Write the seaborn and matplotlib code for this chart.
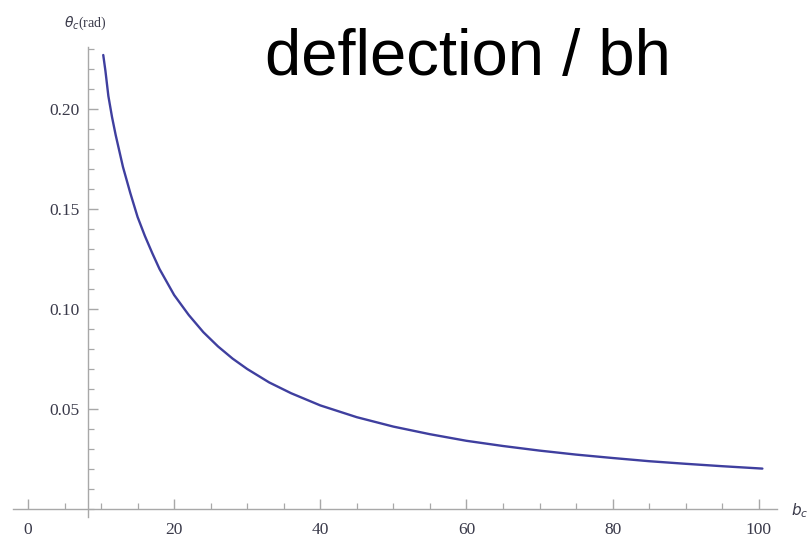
import matplotlib
matplotlib.use("Agg")
import matplotlib.pyplot as plt
from matplotlib.ticker import MultipleLocator
import seaborn as sns
import pandas as pd

# Impact parameter b_c and deflection angle theta_c (rad)
impact_b = [10.3, 10.6, 11, 11.5, 12, 12.5, 13, 14, 15, 16, 17, 18, 19, 20,
            22, 24, 26, 28, 30, 33, 36, 40, 45, 50, 55, 60, 65, 70, 75, 80,
            85, 90, 95, 100.5]
deflection = [0.227, 0.219, 0.2065, 0.196, 0.187, 0.179, 0.171, 0.158, 0.146,
              0.1365, 0.128, 0.120, 0.1135, 0.107, 0.097, 0.0884, 0.0813,
              0.0752, 0.070, 0.0633, 0.0579, 0.0518, 0.0459, 0.0412, 0.0374,
              0.0341, 0.0315, 0.0292, 0.0272, 0.0255, 0.0239, 0.0226, 0.0214,
              0.0202]

x_ticks = [0, 20, 40, 60, 80, 100]
y_ticks = [0.05, 0.10, 0.15, 0.20]
y_tick_labels = ["0.05", "0.10", "0.15", "0.20"]

df = pd.DataFrame({"b": impact_b, "theta": deflection})

sns.set_theme(style="white")
plt.rcParams["font.family"] = ["Liberation Serif", "DejaVu Serif"]

fig = plt.figure(figsize=(8.08, 5.39), dpi=100)
ax = fig.add_axes([13 / 808, 22 / 539, 764 / 808, 470 / 539])

sns.lineplot(data=df, x="b", y="theta", color="#3f3f9f", linewidth=1.7,
             ax=ax, sort=False)

ax.set_xlim(-2.05, 102.5)
ax.set_ylim(-0.004, 0.231)

axis_color = "#a8a8a8"
for side in ["top", "right"]:
    ax.spines[side].set_visible(False)
ax.spines["left"].set_position(("data", 8.2))
ax.spines["bottom"].set_position(("data", 0.0))
for side in ["left", "bottom"]:
    ax.spines[side].set_color(axis_color)
    ax.spines[side].set_linewidth(1.0)

ax.set_xticks(x_ticks)
ax.set_xticklabels([str(v) for v in x_ticks])
ax.set_yticks(y_ticks)
ax.set_yticklabels(y_tick_labels)
ax.xaxis.set_minor_locator(MultipleLocator(5))
ax.yaxis.set_minor_locator(MultipleLocator(0.01))

label_color = "#3a3a4a"
ax.tick_params(axis="both", which="both", bottom=True, left=True,
               top=False, right=False)
ax.tick_params(axis="both", which="major", direction="in", length=7,
               width=1.0, color=axis_color, labelsize=12.5,
               labelcolor=label_color)
ax.tick_params(axis="both", which="minor", direction="in", length=4,
               width=0.9, color=axis_color)
ax.tick_params(axis="x", which="major", pad=9)
ax.tick_params(axis="y", which="major", pad=6)
ax.set_xlabel("")
ax.set_ylabel("")

# Axis captions in the corners
fig.text(85 / 808, 1 - 23 / 539, r"$\theta_c$(rad)", ha="center", va="center",
         fontsize=10, color=label_color)
fig.text(791 / 808, 1 - 511 / 539, r"$b_c$", ha="left", va="center",
         fontsize=11, color=label_color)

# Slide heading
fig.text(265 / 808, 1 - 75 / 539, "deflection / bh", ha="left",
         va="baseline", fontsize=47, color="black",
         family=["Liberation Sans", "DejaVu Sans"], fontweight="normal")

fig.savefig("out.png", dpi=100)
